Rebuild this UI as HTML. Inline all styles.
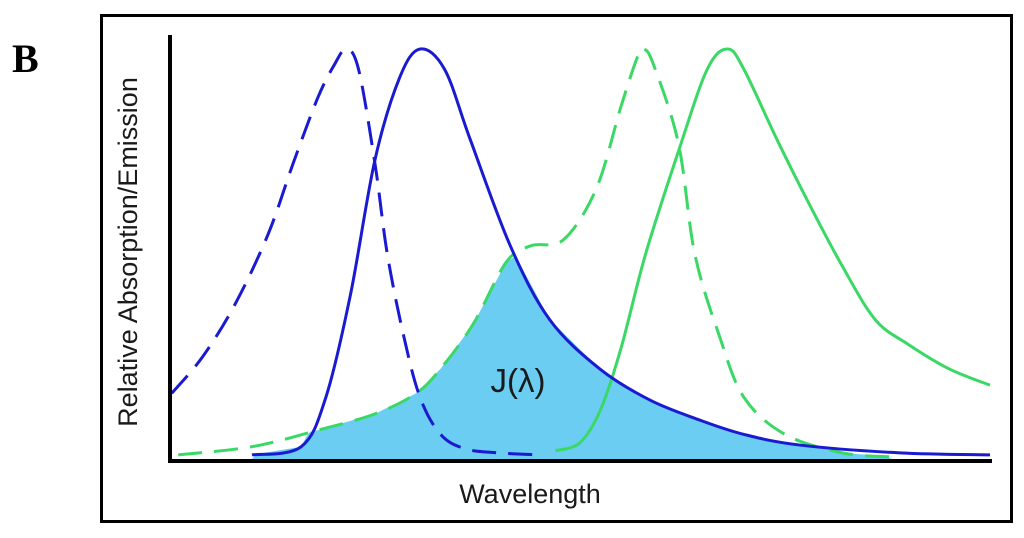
<!DOCTYPE html>
<html><head><meta charset="utf-8">
<style>
html,body{margin:0;padding:0;background:#fff;width:1024px;height:538px;overflow:hidden}
svg{display:block}
</style></head>
<body>
<svg id="chart" width="1024" height="538" viewBox="0 0 1024 538" xmlns="http://www.w3.org/2000/svg">
<text x="12" y="72" font-family="Liberation Serif, serif" font-weight="bold" font-size="40">B</text>
<rect x="101.5" y="15.5" width="910" height="506" fill="none" stroke="#000" stroke-width="3"/>
<g id="plot"></g>
<line x1="170" y1="35" x2="170" y2="462" stroke="#000" stroke-width="4"/>
<line x1="168" y1="461" x2="992" y2="461" stroke="#000" stroke-width="4"/>
<text x="530" y="503" text-anchor="middle" font-family="Liberation Sans, sans-serif" font-size="27" fill="#1a1a1a">Wavelength</text>
<text transform="translate(137,252) rotate(-90)" text-anchor="middle" font-family="Liberation Sans, sans-serif" font-size="27" fill="#1a1a1a">Relative Absorption/Emission</text>
<text x="518" y="392" text-anchor="middle" font-family="Liberation Sans, sans-serif" font-size="33" fill="#1a1a1a">J(λ)</text>
</svg>
<script>
const donorAbsX=[0.2,4,8,12,15,18,20,21.5,23,25,26.5,28.5,30.5,33,36,40,45];
const donorAbsY=[0.16,0.25,0.38,0.55,0.72,0.88,0.96,1.0,0.95,0.72,0.5,0.3,0.15,0.06,0.025,0.015,0.01];
const donorEmX=[10,16,19,22,25,28,30.5,33.5,36.6,41.5,46.3,52.4,58.5,64.6,70,76.8,89,100];
const donorEmY=[0.01,0.03,0.15,0.4,0.73,0.93,1.0,0.95,0.78,0.52,0.34,0.22,0.144,0.095,0.06,0.034,0.015,0.01];
const accAbsX=[1,10,18,25,30,33,37,41,44,48,52,55,57,57.8,59,62,64,67,70,75,82,88];
const accAbsY=[0.01,0.03,0.07,0.11,0.16,0.22,0.33,0.48,0.52,0.535,0.66,0.86,0.98,1.0,0.96,0.77,0.5,0.3,0.15,0.06,0.015,0.005];
const accEmX=[47,50,52.5,55,58,62,65.5,68,70,74,78,82,86,90,95,100];
const accEmY=[0.02,0.04,0.12,0.27,0.5,0.75,0.95,1.0,0.95,0.78,0.62,0.47,0.34,0.28,0.22,0.18];

const X=v=>170+v*8.2, Y=v=>459-v*410;
const NS='http://www.w3.org/2000/svg';
const g=document.getElementById('plot');
function smooth(xs,ys){
  const p=xs.map((x,i)=>[X(x),Y(ys[i])]);
  let d='M'+p[0][0]+','+p[0][1];
  for(let i=0;i<p.length-1;i++){
    const p0=p[i-1]||p[i],p1=p[i],p2=p[i+1],p3=p[i+2]||p2;
    const c1=[p1[0]+(p2[0]-p0[0])/6,p1[1]+(p2[1]-p0[1])/6];
    const c2=[p2[0]-(p3[0]-p1[0])/6,p2[1]-(p3[1]-p1[1])/6];
    d+=' C'+c1[0]+','+c1[1]+' '+c2[0]+','+c2[1]+' '+p2[0]+','+p2[1];
  }
  return d;
}
function interp(xs,ys,x){
  if(x<=xs[0]||x>=xs[xs.length-1])return 0;
  for(let i=0;i<xs.length-1;i++)if(x>=xs[i]&&x<=xs[i+1]){const t=(x-xs[i])/(xs[i+1]-xs[i]);return ys[i]+t*(ys[i+1]-ys[i]);}
  return 0;
}
const fx=[],fy=[];
for(let x=10;x<=100;x+=0.5){fx.push(x);fy.push(Math.min(interp(donorEmX,donorEmY,x),interp(accAbsX,accAbsY,x)));}
let fd='M'+X(fx[0])+','+Y(0);
fx.forEach((x,i)=>{fd+=' L'+X(x)+','+Y(fy[i]);});
fd+=' L'+X(fx[fx.length-1])+','+Y(0)+'Z';
const fill=document.createElementNS(NS,'path');
fill.setAttribute('d',fd);fill.setAttribute('fill','#6ccdf2');


g.appendChild(fill);
function line(xs,ys,color,dash,name){
  const p=document.createElementNS(NS,'path');
  p.setAttribute('d',smooth(xs,ys));p.setAttribute('fill','none');
  p.setAttribute('stroke',color);p.setAttribute('stroke-width','3');
  if(dash)p.setAttribute('stroke-dasharray',dash);
  
  
  g.appendChild(p);
}
line(accAbsX,accAbsY,'#3ad865','24,12','acceptor-absorption-line');
line(accEmX,accEmY,'#3ad865',null,'acceptor-emission-line');
line(donorAbsX,donorAbsY,'#1a1ad0','24,12','donor-absorption-line');
line(donorEmX,donorEmY,'#1a1ad0',null,'donor-emission-line');
</script>
</body></html>
